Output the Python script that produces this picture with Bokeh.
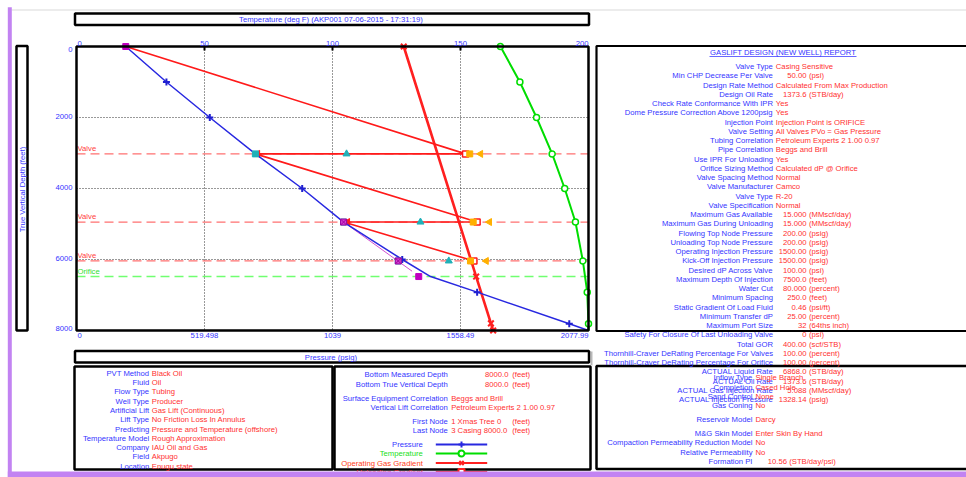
import numpy as np
from collections import OrderedDict
from bokeh.plotting import figure
from bokeh.models import Range1d
from bokeh.core.properties import value
from bokeh.embed import file_html
from bokeh.resources import INLINE

# ---------------- data ----------------
P_MAX = 2077.99
T_MIN, T_MAX = 0, 200
D_MAX = 8000
pressure_ticks = [0, 519.4975, 1038.995, 1558.4925, 2077.99]
pressure_tick_labels = ["0", "519.498", "1039", "1558.49", "2077.99"]
temp_ticks = [0, 50, 100, 150, 200]
temp_tick_labels = ["0", "50", "100", "150", "200"]
depth_ticks = [0, 2000, 4000, 6000, 8000]
depth_tick_labels = ["0", "2000", "4000", "6000", "8000"]

depth_nodes = [0, 1000, 2000, 3025, 4000, 4945, 6000, 6480, 6920, 7810, 8000]
pressure_psig = [200, 365, 541, 726, 916, 1084, 1322, 1437, 1626, 2000, 2077.99]
pressure_marker_depth = [1000, 2000, 4000, 6000, 6920, 7810]
pressure_marker_psig = [365, 541, 916, 1322, 1626, 2000]

temp_depth = [0, 1000, 2000, 3025, 4000, 4945, 6041, 6920, 7810, 8000]
temperature_degF = [165.6, 173.2, 179.7, 185.8, 190.7, 194.9, 197.8, 199.5, 200.0, 200.0]

gas_depth = [0, 6480, 7800, 8000]
gas_psig = [1328.14, 1622, 1682, 1691]

valve_depths = [3025, 4945, 6041]
orifice_depth = 6480

unloading_depth = [0, 3025, 3025, 4945, 4945, 6041]
unloading_psig = [200, 1579, 726, 1626, 1084, 1613]
arrow_psig = [735, 1100]
arrow_depth = [3025, 4945]

casing_open_psig = [1579, 1626, 1613]
orange_sq_psig = [1596, 1610, 1599]
orange_tri_psig = [1640, 1676, 1663]
cyan_on_psig = [726, 1084, 1306]
cyan_tri_psig = [1096, 1396, 1511]
magenta_x_psig = [1084, 1306]
magenta_x_depth = [4945, 6041]
magenta_sq_psig = [200, 1389]
magenta_sq_depth = [0, 6480]
magenta_line_psig = [1084, 1362]
magenta_line_depth = [4945, 6330]

report_rows = [
    ("Valve Type", "Casing Sensitive", None),
    ("Min CHP Decrease Per Valve", "50.00", "(psi)"),
    ("Design Rate Method", "Calculated From Max Production", None),
    ("Design Oil Rate", "1373.6", "(STB/day)"),
    ("Check Rate Conformance With IPR", "Yes", None),
    ("Dome Pressure Correction Above 1200psig", "Yes", None),
    ("Injection Point", "Injection Point is ORIFICE", None),
    ("Valve Setting", "All Valves PVo = Gas Pressure", None),
    ("Tubing Correlation", "Petroleum Experts 2 1.00 0.97", None),
    ("Pipe Correlation", "Beggs and Brill", None),
    ("Use IPR For Unloading", "Yes", None),
    ("Orifice Sizing Method", "Calculated dP @ Orifice", None),
    ("Valve Spacing Method", "Normal", None),
    ("Valve Manufacturer", "Camco", None),
    ("Valve Type", "R-20", None),
    ("Valve Specification", "Normal", None),
    ("Maximum Gas Available", "15.000", "(MMscf/day)"),
    ("Maximum Gas During Unloading", "15.000", "(MMscf/day)"),
    ("Flowing Top Node Pressure", "200.00", "(psig)"),
    ("Unloading Top Node Pressure", "200.00", "(psig)"),
    ("Operating Injection Pressure", "1500.00", "(psig)"),
    ("Kick-Off Injection Pressure", "1500.00", "(psig)"),
    ("Desired dP Across Valve", "100.00", "(psi)"),
    ("Maximum Depth Of Injection", "7500.0", "(feet)"),
    ("Water Cut", "80.000", "(percent)"),
    ("Minimum Spacing", "250.0", "(feet)"),
    ("Static Gradient Of Load Fluid", "0.46", "(psi/ft)"),
    ("Minimum Transfer dP", "25.00", "(percent)"),
    ("Maximum Port Size", "32", "(64ths inch)"),
    ("Safety For Closure Of Last Unloading Valve", "0", "(psi)"),
    ("Total GOR", "400.00", "(scf/STB)"),
    ("Thornhill-Craver DeRating Percentage For Valves", "100.00", "(percent)"),
    ("Thornhill-Craver DeRating Percentage For Orifice", "100.00", "(percent)"),
    ("ACTUAL Liquid Rate", "6868.0", "(STB/day)"),
    ("ACTUAL Oil Rate", "1373.6", "(STB/day)"),
    ("ACTUAL Gas Injection Rate", "5.088", "(MMscf/day)"),
    ("ACTUAL Injection Pressure", "1328.14", "(psig)"),
]

ipr_rows = [
    (377.3, "Inflow Type", "Single Branch", None),
    (386.7, "Completion", "Cased Hole", None),
    (396.0, "Sand Control", "None", None),
    (405.3, "Gas Coning", "No", None),
    (419.3, "Reservoir Model", "Darcy", None),
    (433.0, "M&G Skin Model", "Enter Skin By Hand", None),
    (442.3, "Compaction Permeability Reduction Model", "No", None),
    (451.7, "Relative Permeability", "No", None),
    (461.0, "Formation PI", "10.56", "(STB/day/psi)"),
]

system_rows = [
    ("PVT Method", "Black Oil"),
    ("Fluid", "Oil"),
    ("Flow Type", "Tubing"),
    ("Well Type", "Producer"),
    ("Artificial Lift", "Gas Lift (Continuous)"),
    ("Lift Type", "No Friction Loss In Annulus"),
    ("Predicting", "Pressure and Temperature (offshore)"),
    ("Temperature Model", "Rough Approximation"),
    ("Company", "IAU Oil and Gas"),
    ("Field", "Akpugo"),
    ("Location", "Enugu state"),
]

depth_rows = [
    (374.0, "Bottom Measured Depth", "8000.0", "(feet)", True),
    (383.7, "Bottom True Vertical Depth", "8000.0", "(feet)", True),
    (398.0, "Surface Equipment Correlation", "Beggs and Brill", None, False),
    (407.3, "Vertical Lift Correlation", "Petroleum Experts 2 1.00 0.97", None, False),
    (420.7, "First Node", "1 Xmas Tree 0", "(feet)", False),
    (430.0, "Last Node", "3 Casing 8000.0", "(feet)", False),
]

legend_names = ["Pressure", "Temperature", "Operating Gas Gradient", "Unloading Gradient"]

# ---------------- layout / styles ----------------
W, H = 966, 477
FL, FT, FR, FB = 76, 46, 588, 330          # chart frame on the page (px)
BLUE = "#3535ff"
RED = "#ff3030"
FONT = value("Liberation Sans")
FS = "7.7px"

p = figure(width=W, height=H, output_backend="svg", toolbar_location=None,
           x_range=Range1d(0, W), y_range=Range1d(H, 0),
           min_border=0, x_axis_location=None, y_axis_location=None)
p.xgrid.visible = False
p.ygrid.visible = False
p.outline_line_color = None
p.background_fill_color = "white"
p.border_fill_color = "white"

# chart scales mapped onto the chart frame
ppx = P_MAX / (FR - FL)
tpx = (T_MAX - T_MIN) / (FR - FL)
dpx = D_MAX / (FB - FT)
p.extra_x_ranges = {
    "P": Range1d(-FL * ppx, (W - FL) * ppx),
    "T": Range1d(T_MIN - FL * tpx, T_MIN + (W - FL) * tpx),
}
p.extra_y_ranges = {"D": Range1d((H - FT) * dpx, -FT * dpx)}
PD = dict(x_range_name="P", y_range_name="D")
TD = dict(x_range_name="T", y_range_name="D")

# grid
inner_p = pressure_ticks[1:-1]
inner_d = depth_ticks[1:-1]
p.segment(x0=inner_p, x1=inner_p, y0=[0] * len(inner_p), y1=[D_MAX] * len(inner_p),
          line_color="#333333", line_dash="1 2", line_width=1, **PD)
p.segment(x0=[0] * len(inner_d), x1=[P_MAX] * len(inner_d), y0=inner_d, y1=inner_d,
          line_color="#333333", line_dash="1 2", line_width=1, **PD)
# top inward ticks
tick_len = 4 * dpx
inner_t = temp_ticks[1:-1]
p.segment(x0=inner_t, x1=inner_t, y0=[0] * len(inner_t), y1=[tick_len] * len(inner_t),
          line_color="black", line_width=2, **TD)

# valve / orifice lines
nv = len(valve_depths)
p.segment(x0=[0] * nv, x1=[P_MAX] * nv, y0=valve_depths, y1=valve_depths,
          line_color="#ff7070", line_dash="9 5", line_width=1.3, **PD)
p.segment(x0=[0], x1=[P_MAX], y0=[orifice_depth], y1=[orifice_depth],
          line_color="#70ff70", line_dash="9 5", line_width=1.5, **PD)
p.text(x=[0] * nv, y=valve_depths, text=["Valve"] * nv, text_color="#ff4040",
       text_font=FONT, text_font_size=FS, text_baseline="bottom", x_offset=1, y_offset=-1, **PD)
p.text(x=[0], y=[orifice_depth], text=["Orifice"], text_color="#30e030",
       text_font=FONT, text_font_size=FS, text_baseline="bottom", x_offset=1, y_offset=-1, **PD)

# temperature
p.line(temperature_degF, temp_depth, line_color="#00dd00", line_width=2, **TD)
p.scatter(temperature_degF[:-1], temp_depth[:-1], marker="circle", size=6,
          line_color="#00dd00", fill_color="white", line_width=1.5, **TD)

# operating gas gradient
p.line(gas_psig, gas_depth, line_color="#ff2020", line_width=2.6, **PD)
p.scatter(gas_psig, gas_depth, marker="x", size=8, line_color="#ff2020", line_width=2, **PD)

# unloading gradient
p.line(unloading_psig, unloading_depth, line_color="#ff1a1a", line_width=1.6, **PD)
p.scatter(arrow_psig, arrow_depth, marker="triangle", angle=np.pi / 2, size=7,
          fill_color="#ff1a1a", line_color="#ff1a1a", **PD)

# magenta helper line
p.line(magenta_line_psig, magenta_line_depth, line_color="#d050d0", line_width=1, **PD)

# pressure
p.line(pressure_psig, depth_nodes, line_color="#2828e0", line_width=1.5, **PD)
p.scatter(pressure_marker_psig, pressure_marker_depth, marker="cross", size=7,
          line_color="#2020d0", line_width=2, **PD)

# valve markers
p.scatter(cyan_on_psig, valve_depths, marker="square", size=6, fill_color="#20b0b8",
          line_color="#20b0b8", **PD)
p.scatter(cyan_tri_psig, valve_depths, marker="triangle", size=7, fill_color="#20b0b8",
          line_color="#20b0b8", **PD)
p.scatter(magenta_x_psig, magenta_x_depth, marker="square_x", size=6, fill_color="#d040d0",
          line_color="#a000a0", **PD)
p.scatter(magenta_sq_psig, magenta_sq_depth, marker="square", size=6, fill_color="#c000c0",
          line_color="#c000c0", **PD)
p.scatter(casing_open_psig, valve_depths, marker="square", size=6, fill_color="white",
          line_color="#ff1a1a", line_width=1.5, **PD)
p.scatter(orange_sq_psig, valve_depths, marker="square", size=6, fill_color="#ffb000",
          line_color="#ffb000", **PD)
p.scatter(orange_tri_psig, valve_depths, marker="triangle", angle=np.pi / 2, size=7,
          fill_color="#ffb000", line_color="#ffb000", **PD)

# chart frame
p.quad(left=[0], right=[P_MAX], top=[0], bottom=[D_MAX], fill_color=None,
       line_color="black", line_width=2.5, **PD)

# tick labels (through chart scales)
aligns5 = ["left", "center", "center", "center", "right"]
for t, lab, al in zip(temp_ticks, temp_tick_labels, aligns5):
    p.text(x=[t], y=[0], text=[lab], text_color=BLUE, text_font=FONT, text_font_size=FS,
           text_align=al, text_baseline="bottom", x_offset=1 if al == "left" else 0,
           y_offset=-1, **TD)
for t, lab, al in zip(pressure_ticks, pressure_tick_labels, aligns5):
    p.text(x=[t], y=[D_MAX], text=[lab], text_color=BLUE, text_font=FONT, text_font_size=FS,
           text_align=al, text_baseline="top", x_offset=1 if al == "left" else 0,
           y_offset=2, **PD)
base5 = ["top", "middle", "middle", "middle", "bottom"]
for d, lab, bl in zip(depth_ticks, depth_tick_labels, base5):
    p.text(x=[0], y=[d], text=[lab], text_color=BLUE, text_font=FONT, text_font_size=FS,
           text_align="right", text_baseline=bl, x_offset=-4,
           y_offset=0 if bl != "middle" else -1.5, **PD)

# ---------------- page texts & boxes ----------------
text_groups = OrderedDict()

def txt(X, Y, s, color, align="left", size=FS, angle=0.0):
    key = (color, align, size, angle)
    g = text_groups.setdefault(key, dict(x=[], y=[], text=[]))
    g["x"].append(X)
    g["y"].append(Y)
    g["text"].append(s)

def box(L, T, R, B, line="black", lw=2.5, fill=None):
    p.quad(left=[L], right=[R], top=[T], bottom=[B],
           fill_color=fill, line_color=line, line_width=lw if line else 0)

# light gray top rule and small gray mark
box(11, 8.5, 970, 10.5, line=None, fill="#ececec")
box(590, 351, 592, 365, line=None, fill="#b8b8b8")

box(74.5, 13, 588.5, 24.5)
txt(331.5, 18.8, "Temperature  (deg F) (AKP001 07-06-2015 - 17:31:19)", BLUE, align="center")

box(16, 45.5, 27, 330)
txt(21.5, 188, "True Vertical Depth  (feet)", BLUE, align="center", angle=np.pi / 2)

box(74.5, 350.5, 588.5, 362)
txt(331.5, 356.5, "Pressure  (psig)", BLUE, align="center")

box(596, 45.5, 980, 330.5, lw=2.2)
txt(782.5, 52.3, "GASLIFT DESIGN (NEW WELL) REPORT", BLUE, align="center")
box(709, 55.8, 856, 56.6, line=None, fill=BLUE)

Y0, DY = 66.0, 9.25
for i, (lab, val, unit) in enumerate(report_rows):
    y = Y0 + i * DY
    txt(772.5, y, lab, BLUE, align="right")
    if unit is None:
        txt(775.3, y, val, RED)
    else:
        txt(806.0, y, val, RED, align="right")
        txt(808.5, y, unit, RED)

box(596, 365.5, 980, 468.5)
for (y, lab, val, unit) in ipr_rows:
    txt(752.0, y, lab, BLUE, align="right")
    if unit is None:
        txt(755.0, y, val, RED)
    else:
        txt(786.5, y, val, RED, align="right")
        txt(788.7, y, unit, RED)

box(74, 366, 332, 469)
for i, (lab, val) in enumerate(system_rows):
    y = 372.7 + i * 9.3
    txt(148.7, y, lab, BLUE, align="right")
    txt(151.3, y, val, RED)

box(334, 366, 590, 469)
for (y, lab, val, unit, num) in depth_rows:
    txt(447.3, y, lab, BLUE, align="right")
    if num:
        txt(508.0, y, val, RED, align="right")
    else:
        txt(450.7, y, val, RED)
    if unit:
        txt(511.7, y, unit, RED)

leg_cols = [BLUE, "#20e020", "#ff4020", RED]
leg_line = ["#2828e0", "#00dd00", "#ff2020", "#ff2020"]
leg_mark = ["cross", "circle", "x", "square"]
leg_y = [444.0, 453.0, 462.5, 471.5]
for name, y, tc, lc, mk in zip(legend_names, leg_y, leg_cols, leg_line, leg_mark):
    txt(422.3, y, name, tc, align="right")
    p.segment(x0=[435.3], x1=[486.7], y0=[y], y1=[y], line_color=lc, line_width=1.8)
    p.scatter(x=[461.0], y=[y], marker=mk, size=6, line_color=lc, line_width=2,
              fill_color="white" if mk in ("circle", "square") else lc)

for (color, align, size, angle), g in text_groups.items():
    p.text(x=g["x"], y=g["y"], text=g["text"], text_color=color, text_align=align,
           text_baseline="middle", text_font=FONT, text_font_size=size, angle=angle)

# purple stripes
box(7.3, 6.7, 11.3, 480, line=None, fill="#c283f2")
box(7.3, 471, 975, 480, line=None, fill="#c283f2")

open("out.html", "w").write(file_html(p, INLINE))
